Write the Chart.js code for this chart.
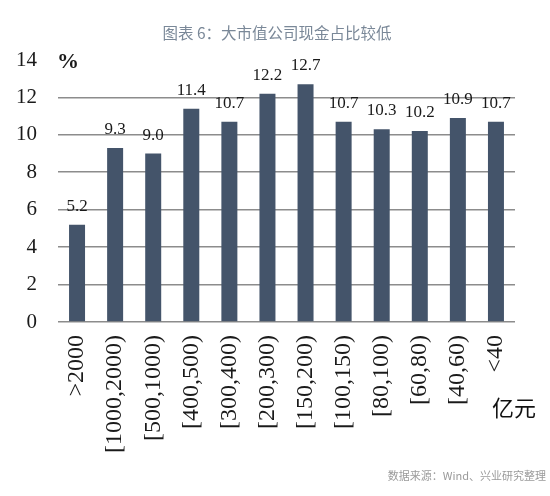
<!DOCTYPE html>
<html>
<head>
<meta charset="utf-8">
<script src="https://cdn.jsdelivr.net/npm/chart.js@4/dist/chart.umd.min.js"></script>
<style>
  html, body { margin: 0; padding: 0; background: #fff; }
  #wrap { width: 550px; height: 496px; }
</style>
</head>
<body>
<div id="wrap"><canvas id="cashChart" width="550" height="496"></canvas></div>
<script>
// 市值区间（亿元）
const categories = ['>2000', '[1000,2000)', '[500,1000)', '[400,500)', '[300,400)', '[200,300)',
    '[150,200)', '[100,150)', '[80,100)', '[60,80)', '[40,60)', '<40'];
// 现金占比 %
const cashShare = [5.2, 9.3, 9.0, 11.4, 10.7, 12.2, 12.7, 10.7, 10.3, 10.2, 10.9, 10.7];
const yTicks = [0, 2, 4, 6, 8, 10, 12, 14];

const serif = "'Liberation Serif', 'Times New Roman', 'DejaVu Serif', serif";
const cjk = "'Noto Sans CJK SC', 'Noto Sans', sans-serif";

// labels above bars, title, unit and source text
const annotations = {
    id: 'annotations',
    afterDatasetsDraw(chart) {
        const ctx = chart.ctx;
        const meta = chart.getDatasetMeta(0);
        ctx.save();
        ctx.fillStyle = '#1a1a1a';
        ctx.font = '17px ' + serif;
        ctx.textAlign = 'center';
        ctx.textBaseline = 'alphabetic';
        meta.data.forEach((bar, i) => {
            ctx.fillText(cashShare[i].toFixed(1), bar.x, bar.y - 14);
        });

        ctx.font = 'bold 22px ' + serif;
        ctx.textAlign = 'left';
        ctx.textBaseline = 'middle';
        ctx.fillText('%', 57, chart.scales.y.getPixelForValue(14) + 2);

        ctx.font = '22px ' + cjk;
        ctx.fillStyle = '#111';
        ctx.textAlign = 'center';
        ctx.fillText('亿元', 514, 408);

        ctx.font = '15.5px ' + cjk;
        ctx.fillStyle = '#7a8898';
        ctx.fillText('图表 6：大市值公司现金占比较低', 277, 33);

        ctx.font = '11px ' + cjk;
        ctx.fillStyle = '#9a9a9a';
        ctx.textAlign = 'right';
        ctx.fillText('数据来源：Wind、兴业研究整理', 546, 476);
        ctx.restore();
    }
};

const chartData = {
    labels: categories,
    datasets: [
        {
            data: cashShare,
            backgroundColor: '#44546a',
            barPercentage: 0.42,
            categoryPercentage: 1.0
        }
    ]
};

const chartConfig = {
    type: 'bar',
    data: chartData,
    options: {
        responsive: false,
        animation: false,
        layout: {
            padding: { top: 60, right: 35, bottom: 10, left: 0 }
        },
        plugins: {
            legend: { display: false },
            tooltip: { enabled: false }
        },
        scales: {
            x: {
                grid: { display: false },
                border: { display: false },
                ticks: {
                    color: '#1a1a1a',
                    font: { family: serif, size: 24 },
                    minRotation: 90,
                    maxRotation: 90,
                    padding: 5,
                    autoSkip: false
                },
                afterFit: (scale) => { scale.height = 164; }
            },
            y: {
                min: 0,
                max: 14,
                afterBuildTicks: (scale) => {
                    scale.ticks = yTicks.map(v => ({ value: v }));
                },
                grid: {
                    color: (c) => c.tick && c.tick.value === 14 ? 'rgba(0,0,0,0)' : '#8c8c8c',
                    lineWidth: 1.6,
                    drawTicks: false
                },
                border: { display: false },
                ticks: {
                    color: '#1a1a1a',
                    font: { family: serif, size: 21 },
                    padding: 21
                },
                afterFit: (scale) => { scale.width = 58; }
            }
        }
    },
    plugins: [annotations]
};

const cashChart = new Chart(document.getElementById('cashChart').getContext('2d'), chartConfig);
</script>
</body>
</html>
